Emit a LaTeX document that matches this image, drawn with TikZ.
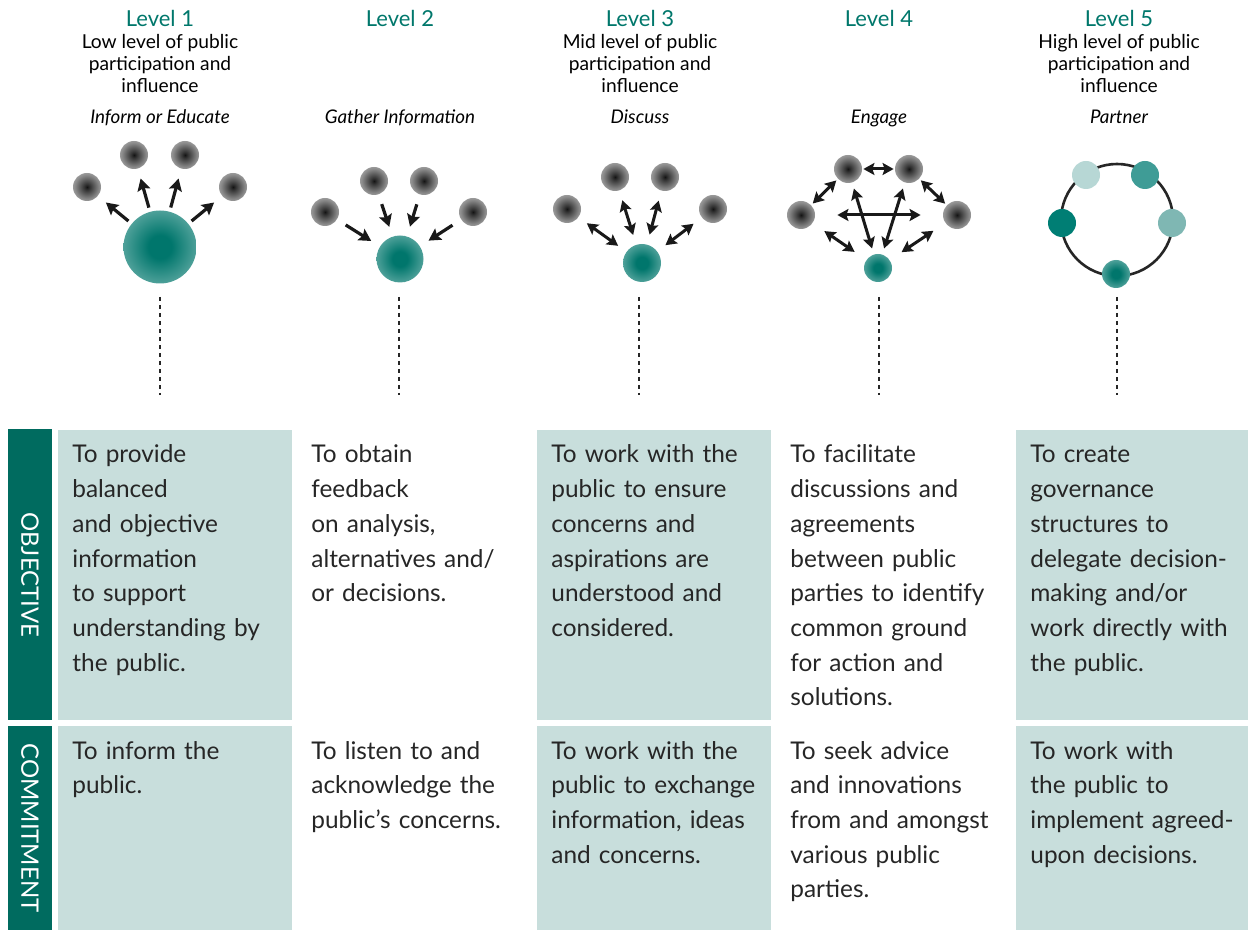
\documentclass[tikz,border=0pt]{standalone}
\usepackage{fontspec}
\setmainfont{Lato}
\usetikzlibrary{arrows.meta}

\definecolor{tealtext}{HTML}{00776B}
\definecolor{tealbar}{HTML}{006B5F}
\definecolor{tealcell}{HTML}{C8DEDC}
\definecolor{tealdark}{HTML}{00766C}
\definecolor{tealpale}{HTML}{B3D7D4}
\definecolor{ringA}{HTML}{B7D7D5}
\definecolor{ringB}{HTML}{3F9C96}
\definecolor{ringC}{HTML}{007E74}
\definecolor{ringD}{HTML}{7FB7B3}

\pgfdeclareradialshading{grayglow}{\pgfpoint{0bp}{0bp}}%
  {color(0bp)=(black!92); color(5bp)=(black!80); color(22bp)=(black!45); color(40bp)=(black!18); color(50bp)=(black!8)}
\pgfdeclareradialshading{tealglow}{\pgfpoint{0bp}{0bp}}%
  {color(0bp)=(tealdark); color(8bp)=(tealdark); color(47bp)=(tealpale); color(50bp)=(tealpale)}

\begin{document}
\begin{tikzpicture}[
  x=0.5pt, y=-0.5pt,
  lvl/.style={anchor=base, text=tealtext, font=\fontsize{11}{12}\selectfont, inner sep=0pt},
  sub/.style={align=center, font=\fontsize{9.6}{11}\selectfont, inner sep=0pt},
  act/.style={anchor=base, font=\fontsize{9.4}{11}\itshape, inner sep=0pt},
  ball/.style={circle, minimum size=14pt, inner sep=0pt, shading=grayglow},
  hub/.style={circle, inner sep=0pt, shading=tealglow},
  dot/.style={circle, minimum size=14pt, inner sep=0pt},
  arr/.style={-{Stealth[length=6pt, width=6.5pt, inset=1pt]}, line width=1.6pt, black!90},
  dbl/.style={{Stealth[length=5.5pt, width=6pt, inset=1pt]}-{Stealth[length=5.5pt, width=6pt, inset=1pt]}, line width=1.5pt, black!90},
  cell/.style={anchor=base west, align=left, text width=118pt, inner sep=0pt,
    text=black!85, font=\fontsize{12.2}{17.35}\selectfont},
  side/.style={rotate=-90, text=white, font=\fontsize{12}{14}\selectfont, inner sep=0pt}
  ]
\useasboundingbox (0,0) rectangle (1248,930);

% headings
\node[lvl] (lvA) at (160,27) {Level 1};
\node[lvl] (lvB) at (400,27) {Level 2};
\node[lvl] (lvC) at (640,27) {Level 3};
\node[lvl] (lvD) at (879,27) {Level 4};
\node[lvl] (lvE) at (1119,27) {Level 5};
\node[sub, anchor=north] (subA) at (160,34) {Low level of public\\participation and\\influence};
\node[sub, anchor=north] (subC) at (640,34) {Mid level of public\\participation and\\influence};
\node[sub, anchor=north] (subE) at (1119,34) {High level of public\\participation and\\influence};
\node[act] (actA) at (160,124) {Inform or Educate};
\node[act] (actB) at (400,124) {Gather Information};
\node[act] (actC) at (640,124) {Discuss};
\node[act] (actD) at (879,124) {Engage};
\node[act] (actE) at (1119,124) {Partner};

% level 1: inform
\node[hub, minimum size=36.5pt] (hubA) at (160,247) {};
\node[ball] (a1) at (87,187) {};
\node[ball] (a2) at (134,155) {};
\node[ball] (a3) at (185,155) {};
\node[ball] (a4) at (233,187) {};
\foreach \b in {a1,a2,a3,a4}
  \draw[arr, shorten <=2pt, shorten >=5pt] (hubA) -- (\b);

% level 2: gather
\node[hub, minimum size=23.5pt] (hubB) at (400,259) {};
\node[ball] (b1) at (325,212) {};
\node[ball] (b2) at (374,181) {};
\node[ball] (b3) at (424,181) {};
\node[ball] (b4) at (473,212) {};
\foreach \b in {b1,b2,b3,b4}
  \draw[arr, shorten <=5pt, shorten >=5pt] (\b) -- (hubB);

% level 3: discuss
\node[hub, minimum size=19pt] (hubC) at (642,263) {};
\node[ball] (c1) at (567,209) {};
\node[ball] (c2) at (615,177) {};
\node[ball] (c3) at (665,177) {};
\node[ball] (c4) at (713,209) {};
\foreach \b in {c1,c2,c3,c4}
  \draw[dbl, shorten <=5pt, shorten >=5pt] (\b) -- (hubC);

% level 4: engage
\node[hub, minimum size=14pt] (hubD) at (878,268) {};
\node[ball] (d1) at (848,169) {};
\node[ball] (d2) at (909,169) {};
\node[ball] (d3) at (801,215) {};
\node[ball] (d4) at (957,215) {};
\draw[dbl, shorten <=0.5pt, shorten >=0.5pt] (d1) -- (d2);
\draw[dbl, shorten <=1pt, shorten >=1pt] (d3) -- (d1);
\draw[dbl, shorten <=1pt, shorten >=1pt] (d2) -- (d4);
\draw[dbl, shorten <=11pt, shorten >=11pt] (d3) -- (d4);
\draw[dbl, shorten <=3pt, shorten >=3pt] (d1) -- (hubD);
\draw[dbl, shorten <=3pt, shorten >=3pt] (d2) -- (hubD);
\draw[dbl, shorten <=7pt, shorten >=7pt] (d3) -- (hubD);
\draw[dbl, shorten <=7pt, shorten >=7pt] (d4) -- (hubD);

% level 5: partner
\draw[line width=1.3pt, black!85] (1117,220) circle[radius=28pt];
\node[dot, fill=ringA] (e1) at (1086,175) {};
\node[dot, fill=ringB] (e2) at (1145,175) {};
\node[dot, fill=ringC] (e3) at (1062,223) {};
\node[dot, fill=ringD] (e4) at (1172,223) {};
\node[hub, minimum size=14pt] (hubE) at (1116,274) {};

% dashed drop lines
\foreach \x in {160,399,639,879,1117}
  \draw[black!85, line width=0.8pt, dash pattern=on 2pt off 2pt] (\x,297) -- (\x,395);

% table backgrounds
\fill[tealbar] (8,429) rectangle (52,720);
\fill[tealbar] (8,726) rectangle (52,930);
\foreach \l/\r in {58/292,537/771,1016/1248}{
  \fill[tealcell] (\l,430) rectangle (\r,720);
  \fill[tealcell] (\l,726) rectangle (\r,930);
}
\node[side] (objT) at (30,575) {OBJECTIVE};
\node[side] (comT) at (30,828) {COMMITMENT};

% objective row
\node[cell] (objA) at (72,463) {To provide\\balanced\\and objective\\information\\to support\\understanding by\\the public.};
\node[cell] (objB) at (311,463) {To obtain\\feedback\\on analysis,\\alternatives and/\\or decisions.};
\node[cell] (objC) at (551,463) {To work with the\\public to ensure\\concerns and\\aspirations are\\understood and\\considered.};
\node[cell] (objD) at (790,463) {To facilitate\\discussions and\\agreements\\between public\\parties to identify\\common ground\\for action and\\solutions.};
\node[cell] (objE) at (1030,463) {To create\\governance\\structures to\\delegate decision-\\making and/or\\work directly with\\the public.};

% commitment row
\node[cell] (comA) at (72,759) {To inform the\\public.};
\node[cell] (comB) at (311,759) {To listen to and\\acknowledge the\\public’s concerns.};
\node[cell] (comC) at (551,759) {To work with the\\public to exchange\\information, ideas\\and concerns.};
\node[cell] (comD) at (790,759) {To seek advice\\and innovations\\from and amongst\\various public\\parties.};
\node[cell] (comE) at (1030,759) {To work with\\the public to\\implement agreed-\\upon decisions.};
\end{tikzpicture}
\end{document}
